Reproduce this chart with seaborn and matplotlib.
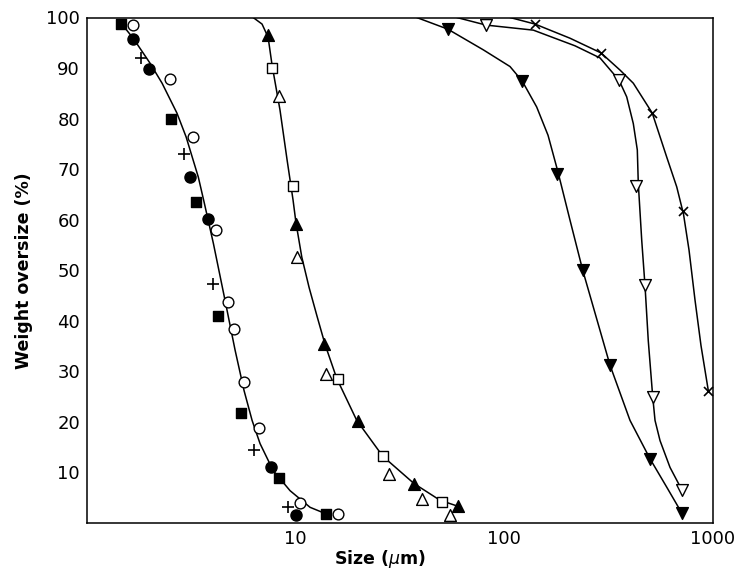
import numpy as np
import pandas as pd
import seaborn as sns
from matplotlib import pyplot as plt
from matplotlib.ticker import FixedLocator, NullLocator

# left group of samples (fine powders)
fine_curve_x = [1.455, 1.68, 2.02, 2.31, 2.72, 3.009, 3.445, 3.669, 4.066, 4.62, 5.164, 5.70, 6.228, 6.80, 7.85, 9.46, 11.8, 13.9]
fine_curve_y = [99.1, 95.9, 91.0, 87.0, 81.1, 76.4, 68.4, 63.5, 55.3, 44.1, 34.2, 26.2, 20.3, 15.7, 10.4, 6.4, 3.1, 1.9]

circ_filled_x = [1.68, 2.00, 3.15, 3.82, 7.65, 10.1]
circ_filled_y = [95.7, 89.8, 68.4, 60.2, 11.0, 1.5]
circ_open_x = [1.68, 2.52, 3.24, 4.19, 4.80, 5.11, 5.70, 6.73, 10.56, 16.1]
circ_open_y = [98.5, 87.8, 76.4, 57.9, 43.7, 38.3, 27.9, 18.7, 4.0, 1.7]
sq_filled_x = [1.47, 2.55, 3.35, 4.30, 5.53, 8.41, 14.1]
sq_filled_y = [98.7, 79.9, 63.5, 40.9, 21.8, 9.0, 1.7]
plus_x = [1.83, 2.94, 4.06, 6.36, 9.29]
plus_y = [92.0, 72.9, 47.2, 14.4, 3.1]

# middle group
mid_curve_x = [6.30, 6.95, 7.43, 7.76, 8.47, 9.16, 9.78, 10.1, 10.77, 11.67, 12.74, 13.92, 15.83, 19.73, 26.3, 37.1, 49.4, 60.3]
mid_curve_y = [100, 98.7, 96.1, 90.6, 81.7, 71.8, 63.9, 59.4, 52.6, 46.6, 40.9, 35.3, 28.6, 20.3, 13.2, 7.8, 4.5, 3.3]

tri_filled_x = [7.40, 10.1, 13.8, 19.95, 37.2, 60.4]
tri_filled_y = [96.5, 59.2, 35.5, 20.2, 7.8, 3.3]
sq_open_x = [7.79, 9.75, 16.0, 26.3, 50.3]
sq_open_y = [90.1, 66.6, 28.4, 13.2, 4.1]
tri_open_x = [8.36, 10.19, 14.07, 28.3, 40.4, 55.1]
tri_open_y = [84.5, 52.6, 29.5, 9.7, 4.8, 1.6]

# right group (coarse)
dtri_curve_x = [38.2, 53.8, 79.6, 106.8, 122.3, 143.3, 162.4, 181.3, 206.9, 238, 321.6, 400.7, 499.6, 600.4, 708.5]
dtri_curve_y = [100, 97.7, 93.6, 90.3, 87.4, 82.3, 76.7, 69.4, 59.9, 50.0, 31.2, 20.3, 12.7, 7.1, 2.0]
dtri_filled_x = [53.8, 122.3, 178.7, 238, 321.6, 499.6, 708.5]
dtri_filled_y = [97.7, 87.4, 69.1, 50.0, 31.2, 12.7, 2.0]

dopen_curve_x = [59.4, 82.0, 138.1, 218.6, 288, 355, 386.4, 415.6, 434.3, 439, 456, 473, 490, 514.6, 527.9, 557.8, 622.7, 708.5]
dopen_curve_y = [100, 98.5, 97.5, 94.4, 92.0, 87.6, 84.3, 79.0, 73.8, 67.2, 55.9, 46.8, 36.1, 25.0, 20.3, 16.3, 11.0, 6.6]
dtri_open_x = [82.0, 355, 428, 473, 514.6, 708.5]
dtri_open_y = [98.5, 87.6, 66.7, 47.0, 25.0, 6.6]

cross_curve_x = [106.8, 140.7, 206.9, 291, 358.9, 415.6, 512, 600.4, 670.5, 722.5, 767.8, 820.2, 876.1, 949.5]
cross_curve_y = [100, 98.7, 95.9, 93.0, 89.6, 87.0, 81.1, 72.4, 66.5, 61.1, 54.0, 44.1, 35.1, 26.2]
cross_x = [140.7, 291, 512, 716, 949.5]
cross_y = [98.7, 93.0, 81.1, 61.7, 26.2]

y_ticks = [10, 20, 30, 40, 50, 60, 70, 80, 90, 100]
x_ticks = [10, 100, 1000]

sns.set_style("white", {"text.color": "black", "axes.labelcolor": "black",
                        "xtick.color": "black", "ytick.color": "black",
                        "axes.edgecolor": "black"})
plt.rcParams['font.family'] = ['DejaVu Sans']

fig = plt.figure(figsize=(7.41, 5.75), dpi=100)
ax = fig.add_axes([87 / 741, 52 / 575, 626 / 741, 505.5 / 575])

curves = [(fine_curve_x, fine_curve_y), (mid_curve_x, mid_curve_y),
          (dtri_curve_x, dtri_curve_y), (dopen_curve_x, dopen_curve_y),
          (cross_curve_x, cross_curve_y)]
for cx, cy in curves:
    sns.lineplot(x=cx, y=cy, sort=False, estimator=None, color="black", lw=1.1, ax=ax)

# filled / open markers
pts = [
    (circ_filled_x, circ_filled_y, "o", 64, "black"),
    (circ_open_x, circ_open_y, "o", 60, "white"),
    (sq_filled_x, sq_filled_y, "s", 50, "black"),
    (tri_filled_x, tri_filled_y, "^", 72, "black"),
    (sq_open_x, sq_open_y, "s", 48, "white"),
    (tri_open_x, tri_open_y, "^", 72, "white"),
    (dtri_filled_x, dtri_filled_y, "v", 72, "black"),
    (dtri_open_x, dtri_open_y, "v", 72, "white"),
]
for px, py, m, s, fc in pts:
    sns.scatterplot(x=px, y=py, marker=m, s=s, color=fc, edgecolor="black",
                    linewidth=1.0, ax=ax, zorder=3, clip_on=False)

sns.scatterplot(x=plus_x, y=plus_y, marker="+", s=64, color="black", linewidth=1.2, ax=ax, zorder=3)
sns.scatterplot(x=cross_x, y=cross_y, marker="x", s=42, color="black", linewidth=1.2, ax=ax, zorder=3)

ax.set_xscale("log")
ax.set_xlim(1.01, 1000)
ax.set_ylim(0, 100)
ax.xaxis.set_major_locator(FixedLocator(x_ticks))
ax.xaxis.set_minor_locator(NullLocator())
ax.set_xticklabels([str(t) for t in x_ticks])
ax.set_yticks(y_ticks)
ax.set_yticklabels([str(t) for t in y_ticks])
ax.tick_params(direction="in", length=12, width=1.0, labelsize=13, pad=5, colors="black")

for sp in ax.spines.values():
    sp.set_visible(True)
    sp.set_color("black")
    sp.set_linewidth(1.1)

ax.set_xlabel(r"Size ($\mu$m)", fontsize=12.5, fontweight="bold", color="black")
ax.set_ylabel("Weight oversize (%)", fontsize=12.5, fontweight="bold", color="black")
ax.xaxis.set_label_coords((380 - 87) / 626, -0.05)
ax.yaxis.set_label_coords(-0.086, 0.5)

fig.savefig("out.png", dpi=100)
